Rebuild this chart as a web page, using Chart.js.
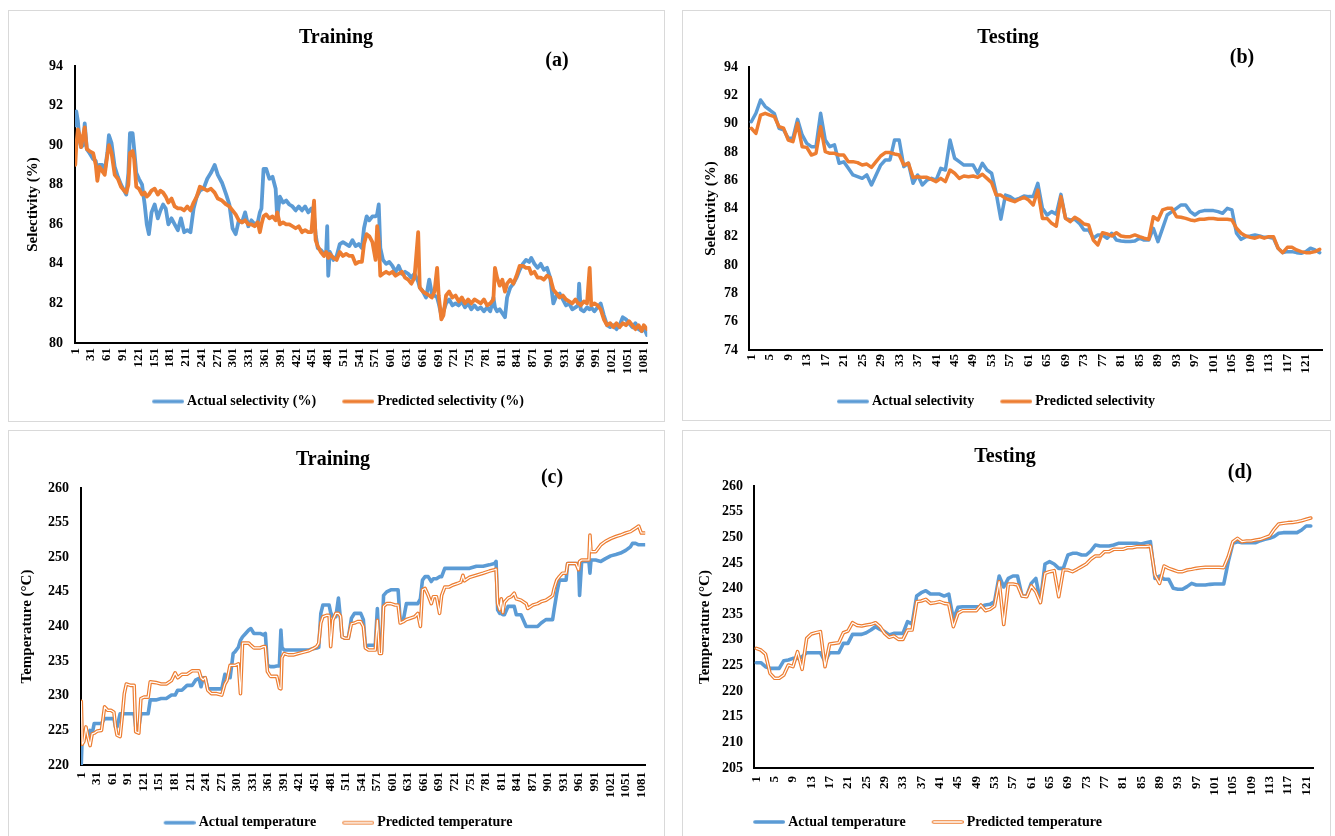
<!DOCTYPE html>
<html><head><meta charset="utf-8">
<script src="https://cdn.jsdelivr.net/npm/chart.js@4.4.1/dist/chart.umd.min.js"></script>
<style>
html,body{margin:0;padding:0;background:#fff;overflow:hidden;width:1335px;height:836px;}
.panel{position:absolute;border:1px solid #d9d9d9;box-sizing:border-box;}
canvas{position:absolute;}
</style></head><body>
<div class="panel" style="left:8px;top:10px;width:657px;height:412px"></div>
<div class="panel" style="left:682px;top:10px;width:649px;height:411px"></div>
<div class="panel" style="left:8px;top:430px;width:657px;height:420px"></div>
<div class="panel" style="left:682px;top:430px;width:649px;height:420px"></div>
<canvas id="ca" width="656" height="411" style="left:8px;top:10px"></canvas>
<canvas id="cb" width="648" height="411" style="left:682px;top:10px"></canvas>
<canvas id="cc" width="656" height="412" style="left:8px;top:430px"></canvas>
<canvas id="cd" width="648" height="412" style="left:682px;top:430px"></canvas>
<script>
// ---------- DATA ----------
const trainTicks = [1,31,61,91,121,151,181,211,241,271,301,331,361,391,421,451,481,511,541,571,601,631,661,691,721,751,781,811,841,871,901,931,961,991,1021,1051,1081];
const testTicks = [1,5,9,13,17,21,25,29,33,37,41,45,49,53,57,61,65,69,73,77,81,85,89,93,97,101,105,109,113,117,121];

// (a) training selectivity, sample index -> values
const trainSelIdx = [1,3,6,9,12,16,19,23,28,35,
40,43,47,52,57,62,65,70,76,82,
88,94,98,102,105,110,113,117,122,128,
133,137,141,146,152,158,163,168,173,178,
184,190,196,202,208,214,220,226,232,238,
245,252,259,266,272,280,288,294,300,306,
312,318,324,330,336,342,348,352,355,359,
364,370,376,382,385,390,396,402,408,414,
420,426,432,438,444,450,455,458,462,468,
474,478,480,482,485,492,498,504,510,516,
522,528,534,540,546,550,555,560,566,572,
575,578,581,586,592,598,604,610,616,622,
628,634,640,646,653,656,662,668,674,679,
684,689,692,697,701,706,712,718,724,730,
736,742,748,754,760,766,772,778,784,790,
796,799,803,808,813,818,822,828,834,840,
846,852,858,864,868,874,880,886,892,898,
904,910,916,922,928,934,940,946,952,957,
959,962,968,974,979,982,988,994,1000,1006,
1012,1018,1024,1030,1036,1042,1048,1054,1060,1066,
1072,1078,1082,1088];
const trainSelActual = [91.0,91.7,91.2,90.3,89.9,90.0,91.1,89.8,89.6,89.3,
89.2,88.7,89.0,89.0,88.7,89.6,90.5,90.1,88.9,88.4,
88.0,87.7,87.5,88.6,90.6,90.6,89.8,88.6,88.3,88.0,
87.0,86.0,85.5,86.6,87.0,86.3,86.7,87.0,86.8,86.0,
86.3,86.0,85.7,86.3,85.6,85.7,85.6,86.8,87.4,87.7,
87.8,88.3,88.6,89.0,88.5,88.1,87.5,87.0,85.8,85.5,
86.2,86.1,86.6,85.9,86.2,86.0,86.1,86.6,86.8,88.8,
88.8,88.3,88.4,87.8,86.3,87.4,87.1,87.2,87.0,86.9,
86.7,86.9,86.7,86.9,86.6,86.8,86.4,85.5,84.8,84.7,
84.5,84.6,85.9,83.4,84.6,84.2,84.4,85.0,85.1,85.0,
84.9,85.2,84.9,85.0,84.8,85.8,86.4,86.2,86.4,86.4,
86.5,87.0,84.8,84.2,84.0,84.1,83.9,83.6,83.9,83.5,
83.6,83.5,83.3,83.5,83.1,82.8,82.6,82.3,83.2,82.5,
82.4,82.3,82.0,81.4,81.6,82.0,82.2,81.9,82.0,81.9,
82.1,81.8,82.0,81.7,81.9,81.7,81.8,81.6,81.8,81.6,
82.3,81.8,81.6,81.7,81.5,81.3,82.3,82.8,83.0,83.3,
83.7,84.0,84.2,84.1,84.3,84.0,83.8,84.0,83.7,83.8,
83.3,82.0,82.4,82.5,82.2,81.9,82.0,81.7,81.8,81.9,
83.0,81.7,81.6,81.8,81.7,81.8,81.6,81.8,82.0,81.4,
80.9,80.8,80.9,80.7,80.9,81.3,81.2,81.0,80.8,81.0,
80.7,80.6,80.8,80.4];
const trainSelPred = [89.0,90.0,90.8,90.5,89.9,90.5,90.9,89.8,89.7,89.6,
89.0,88.2,88.9,88.7,88.5,89.5,90.0,89.6,88.5,88.3,
87.9,87.7,87.6,88.0,89.6,89.7,89.3,87.9,87.8,87.5,
87.6,87.4,87.5,87.7,87.8,87.5,87.7,87.6,87.4,87.1,
87.3,86.9,86.8,86.8,86.7,86.9,86.7,87.1,87.4,87.9,
87.8,87.7,87.8,87.6,87.3,87.2,87.0,86.9,86.7,86.5,
86.2,86.1,86.2,86.0,86.0,85.9,86.1,85.6,86.0,86.4,
86.5,86.3,86.4,86.2,86.6,86.0,86.1,86.0,86.0,85.9,
85.8,85.9,85.6,85.7,85.6,85.6,87.2,85.2,84.9,84.6,
84.4,84.6,84.5,84.3,84.5,84.3,84.2,84.6,84.4,84.5,
84.4,84.4,84.0,84.1,84.1,85.0,85.5,85.4,85.1,84.2,
85.9,85.2,83.4,83.5,83.6,83.5,83.6,83.4,83.5,83.6,
83.3,83.2,83.0,83.3,85.6,82.8,82.6,82.5,82.4,82.3,
82.6,83.8,82.4,81.2,81.4,82.4,82.6,82.3,82.4,82.1,
82.3,82.0,82.2,82.0,82.2,82.1,82.0,82.2,81.9,82.0,
82.2,83.8,83.3,82.9,83.2,82.6,83.0,83.2,83.0,83.4,
83.9,83.9,83.8,83.8,83.5,83.6,83.3,83.3,83.2,83.4,
83.3,82.7,82.5,82.3,82.4,82.2,82.1,82.0,82.2,82.0,
82.0,81.9,82.1,82.0,83.8,81.9,82.0,81.9,81.7,81.2,
80.9,81.0,80.8,81.0,80.8,81.0,80.9,81.1,80.9,80.7,
80.9,80.6,80.9,80.7];

// (b) testing selectivity, one value per sample 1..124
const testSelActual = [90.13,90.73,91.67,91.2,90.96,90.7,89.67,89.55,88.96,88.96,
90.3,89.2,88.6,88.37,88.37,90.73,88.84,88.37,88.5,87.2,
87.3,86.84,86.37,86.25,86.13,86.37,85.66,86.37,87.07,87.43,
87.43,88.84,88.84,86.96,87.2,85.78,86.37,85.66,86.0,86.13,
86.0,86.84,86.72,88.84,87.55,87.31,87.07,87.07,87.07,86.49,
87.2,86.72,86.49,85.07,83.25,84.95,84.84,84.6,84.72,84.88,
84.84,84.84,85.78,84.01,83.54,83.78,83.6,85.0,83.3,83.19,
83.24,82.95,82.48,82.48,81.9,82.13,82.13,81.9,82.25,81.77,
81.7,81.66,81.66,81.7,81.9,81.77,81.77,82.6,81.66,82.6,
83.54,83.78,84.01,84.25,84.25,83.78,83.54,83.78,83.85,83.85,
83.85,83.78,83.66,84.01,83.9,82.25,81.82,82.01,82.06,82.13,
82.06,81.96,81.96,81.9,81.19,80.88,80.95,80.95,80.88,80.83,
80.95,81.19,81.07,80.88];
const testSelPred = [89.67,89.31,90.6,90.73,90.6,90.49,89.78,89.67,88.84,88.72,
90.02,88.37,88.32,87.78,87.9,89.78,88.02,87.9,87.9,87.78,
87.78,87.31,87.31,87.24,87.07,87.14,86.91,87.31,87.71,87.95,
87.95,87.85,87.78,87.07,87.2,86.2,86.25,86.2,86.2,86.06,
85.9,86.13,85.9,86.72,86.49,86.13,86.3,86.25,86.3,86.2,
86.42,86.13,85.83,84.95,84.95,84.72,84.6,84.48,84.65,84.79,
84.6,84.25,85.3,83.3,83.3,82.95,82.75,84.84,83.3,83.07,
83.38,83.19,82.9,82.83,81.77,81.42,82.29,82.2,82.06,82.29,
82.06,82.01,82.01,82.13,82.01,81.9,81.82,83.42,83.19,83.9,
84.01,84.01,83.42,83.38,83.3,83.19,83.14,83.24,83.24,83.3,
83.3,83.24,83.24,83.24,83.19,82.6,82.25,82.06,81.96,81.9,
82.01,81.9,82.01,82.01,81.19,80.88,81.26,81.26,81.07,80.95,
80.88,80.88,80.95,81.11];

// (c) training temperature, sample index -> values
const trainTempIdx = [1,3,6,10,14,18,22,26,32,40,
46,52,58,64,67,70,76,80,84,88,
96,103,106,112,116,122,130,134,145,155,
165,175,182,187,195,205,215,222,228,232,
236,240,245,252,262,272,278,282,288,294,
298,304,308,312,318,324,328,334,340,346,
352,356,360,366,372,378,383,386,388,392,
400,410,420,430,440,448,455,459,463,467,
474,479,482,486,492,497,501,504,510,516,
522,528,534,540,545,549,555,562,568,572,
576,580,584,590,598,606,612,616,622,628,
636,644,650,655,659,664,670,676,680,686,
692,696,702,710,718,726,733,737,740,750,
763,776,788,798,801,804,808,811,814,817,
824,830,836,840,849,859,862,872,881,888,
897,907,910,913,918,923,929,936,939,945,
955,960,962,966,974,980,982,984,993,1003,
1012,1022,1032,1041,1051,1060,1064,1070,1076,1081,
1088];
const trainTempActual = [220.0,224.6,224.2,225.2,224.0,225.0,224.5,226.0,226.0,226.0,
226.7,226.7,226.7,226.7,225.5,225.5,227.4,227.4,227.4,227.4,
227.4,227.4,225.5,225.5,227.4,227.4,227.4,229.4,229.4,229.6,
229.6,230.1,230.1,230.8,230.8,231.5,231.5,232.3,232.5,231.3,
232.6,232.6,231.0,231.0,231.0,231.0,233.1,232.6,232.6,236.1,
236.4,237.0,238.0,238.5,239.0,239.5,239.7,239.0,239.0,239.0,
238.8,239.0,234.4,234.2,234.2,234.3,234.3,239.5,237.0,236.6,
236.6,236.6,236.6,236.6,236.6,236.8,236.9,237.0,241.9,243.1,
243.1,243.1,242.0,241.4,241.4,244.1,241.0,238.5,238.3,238.3,
241.2,241.9,241.9,241.9,241.0,237.1,237.3,237.3,237.3,242.6,
236.4,236.4,244.5,245.0,245.3,245.3,245.3,240.9,240.9,243.3,
243.3,243.3,243.3,244.0,246.7,247.2,247.2,246.5,246.9,246.9,
247.2,247.2,248.4,248.4,248.4,248.4,248.4,248.4,248.4,248.4,
248.7,248.7,248.9,249.1,249.4,242.4,241.9,241.9,241.7,241.7,
242.9,242.9,242.9,241.7,241.7,240.0,240.0,240.0,240.0,240.5,
241.0,241.0,241.0,242.5,244.8,246.7,246.7,246.7,249.1,249.1,
249.1,249.1,244.5,249.4,249.4,249.4,247.7,249.6,249.6,249.4,
249.8,250.2,250.4,250.6,251.0,251.5,252.0,252.0,251.8,251.8,
251.8];
const trainTempPred = [229.2,223.0,223.4,225.5,224.0,222.8,224.5,224.6,224.9,225.0,
228.4,227.9,227.9,227.6,225.5,224.3,224.1,227.0,230.3,231.7,
231.5,231.5,224.8,224.6,229.6,229.8,229.8,232.0,231.9,231.7,
231.7,232.2,233.3,232.6,233.1,233.1,233.6,233.6,233.6,232.6,
232.3,232.6,230.8,230.3,230.3,230.1,231.7,232.2,234.4,234.4,
234.4,234.6,230.3,237.6,237.6,237.6,237.3,236.9,236.9,236.9,
237.1,237.1,233.5,232.8,232.8,232.8,231.1,231.0,235.5,236.1,
235.9,235.9,236.1,236.3,236.5,236.8,237.1,237.6,240.5,241.4,
241.6,241.6,237.1,240.9,241.9,241.9,241.5,238.5,238.3,238.3,
240.4,240.5,240.7,240.7,240.0,236.9,236.6,236.6,236.6,240.9,
236.1,236.1,242.9,243.3,243.3,243.1,243.1,240.5,240.7,241.0,
241.2,241.4,241.9,240.0,245.3,245.5,244.5,243.3,244.3,244.3,
241.9,244.5,245.7,245.7,246.0,246.2,246.4,247.4,246.6,247.1,
247.4,247.7,248.0,248.2,248.3,243.3,242.4,244.0,242.0,243.5,
244.1,244.3,244.8,244.0,243.8,243.3,242.6,243.1,243.3,243.6,
243.8,244.3,244.5,245.5,246.7,247.2,247.7,247.7,249.1,249.1,
249.1,248.2,249.4,249.6,249.6,249.6,253.2,250.8,250.8,251.8,
252.3,252.7,253.0,253.2,253.5,253.7,253.9,254.2,254.5,253.5,
253.5];

// (d) testing temperature, one value per sample 1..122
const testTempActual = [225.54,225.54,224.76,224.44,224.44,224.44,225.93,226.06,226.39,226.39,
226.71,227.49,227.49,227.49,227.49,225.74,227.49,227.49,227.49,229.31,
229.31,231.07,231.07,231.07,231.39,231.91,232.56,232.04,231.59,230.94,
231.26,231.26,231.26,233.54,233.08,238.54,239.19,239.58,238.93,238.93,
238.93,238.54,238.93,234.0,236.33,236.46,236.46,236.46,236.46,236.46,
236.79,236.92,237.44,242.45,240.3,242.0,242.45,242.45,238.54,238.54,
241.01,241.99,237.44,244.79,245.24,244.79,243.94,243.94,246.54,246.87,
246.87,246.54,246.54,247.32,248.49,248.3,248.3,248.3,248.49,248.82,
248.82,248.82,248.82,248.82,248.69,248.95,249.14,241.99,242.45,241.8,
241.8,240.04,239.85,239.85,240.37,241.01,240.69,240.69,240.69,240.82,
240.88,240.88,240.88,245.24,248.82,249.14,248.95,248.95,248.95,248.95,
249.34,249.6,249.79,250.12,250.77,250.9,250.9,250.9,250.9,251.42,
252.2,252.2];
const testTempPred = [228.34,228.01,227.23,223.46,222.49,222.49,223.14,225.09,224.76,227.69,
224.24,230.29,231.13,231.39,231.59,224.76,229.18,229.31,229.44,231.39,
231.72,233.34,232.82,232.69,232.89,233.02,233.34,232.56,231.26,230.48,
230.74,230.09,230.09,231.91,231.91,237.44,237.57,237.89,237.11,237.24,
237.44,237.11,236.98,232.56,235.16,235.68,235.68,235.68,235.68,236.79,
235.68,235.94,236.59,241.34,233.0,240.88,240.88,240.69,238.54,238.41,
240.5,239.39,237.24,242.97,243.29,243.49,238.41,243.62,243.62,243.29,
243.75,244.27,244.79,245.7,246.35,246.35,247.19,247.19,247.65,247.65,
247.65,247.97,247.97,248.17,248.17,248.17,248.3,242.64,241.01,244.4,
243.94,243.62,243.29,243.29,243.62,243.75,243.94,244.07,244.14,244.14,
244.14,244.14,244.07,246.22,249.14,249.79,249.14,249.27,249.27,249.47,
249.6,249.92,250.25,251.55,252.59,252.72,252.85,252.9,253.04,253.24,
253.5,253.76];

// ---------- STYLE / BUILD ----------
const BLUE = '#5B9BD5', ORANGE = '#ED7D31';
Chart.defaults.font.family = '"Liberation Serif", "Times New Roman", serif';
Chart.defaults.font.weight = 'bold';
Chart.defaults.color = '#000';

const seq = (n) => Array.from({length: n}, (_, i) => i + 1);
const pts = (xs, ys) => xs.map((x, i) => ({x: x, y: ys[i]}));

function lineImg(color, dbl) {
  const c = document.createElement('canvas');
  c.width = 44; c.height = 8;
  const g = c.getContext('2d');
  g.lineCap = 'round';
  g.strokeStyle = color; g.lineWidth = 3.6;
  g.beginPath(); g.moveTo(13.8, 4); g.lineTo(42.2, 4); g.stroke();
  if (dbl) {
    g.strokeStyle = '#fff'; g.lineWidth = 1.3;
    g.beginPath(); g.moveTo(13.8, 4); g.lineTo(42.2, 4); g.stroke();
  }
  return c;
}

const panelTag = {
  id: 'panelTag',
  afterDraw(chart, args, o) {
    if (!o || !o.text) return;
    const ctx = chart.ctx;
    ctx.save();
    ctx.font = 'bold 20px "Liberation Serif", serif';
    ctx.fillStyle = '#000';
    ctx.textAlign = 'center';
    ctx.textBaseline = 'middle';
    ctx.fillText(o.text, o.x, o.y);
    ctx.restore();
  }
};
const legendShift = {
  id: 'legendShift',
  afterLayout(chart, args, o) {
    const dx = (o && o.dx) || 0;
    if (chart.legend && dx) { chart.legend.left += dx; chart.legend.right += dx; }
  }
};

function panel(id, p) {
  const ds = [
    {label: p.names[0], data: pts(p.x, p.actual), borderColor: BLUE, borderWidth: p.lw, order: 3},
    {label: p.names[1], data: pts(p.x, p.pred), borderColor: ORANGE, borderWidth: p.lw, order: 2}
  ];
  if (p.dbl) ds.push({label: 'inner', data: pts(p.x, p.pred), borderColor: '#fff', borderWidth: 1.2, order: 1});
  const imgs = [lineImg(BLUE, false), lineImg(ORANGE, p.dbl)];
  return new Chart(document.getElementById(id), {
    type: 'line',
    data: {datasets: ds},
    plugins: [panelTag, legendShift],
    options: {
      responsive: false, animation: false, devicePixelRatio: 1, events: [],
      layout: {padding: {left: p.L, right: p.R, top: 0, bottom: p.B}},
      elements: {
        point: {radius: 0, hoverRadius: 0},
        line: {tension: 0, borderJoinStyle: 'round', borderCapStyle: 'round', fill: false}
      },
      scales: {
        x: {
          type: 'linear', min: 0.5, max: p.n + 0.5,
          grid: {display: false, drawTicks: false},
          border: {display: true, color: '#000', width: 2},
          ticks: {autoSkip: false, minRotation: 90, maxRotation: 90, padding: p.xPad,
                  font: {size: 13, weight: 'bold'}, color: '#000', callback: (v) => String(v)},
          afterBuildTicks: (s) => { s.ticks = p.ticks.map((v) => ({value: v})); },
          afterFit: (s) => { s.height = p.xh; }
        },
        y: {
          type: 'linear', min: p.ymin, max: p.ymax,
          grid: {display: false, drawTicks: false},
          border: {display: true, color: '#000', width: 2},
          ticks: {stepSize: p.step, padding: p.yPad, font: {size: 14, weight: 'bold'}, color: '#000'},
          title: {display: true, text: p.yTitle, color: '#000', font: {size: 15, weight: 'bold'},
                  padding: {top: p.ytPad, bottom: 0}},
          afterFit: (s) => { s.width = p.yw; }
        }
      },
      plugins: {
        tooltip: {enabled: false},
        title: {display: true, text: p.title, color: '#000', font: {size: 20, weight: 'bold'},
                padding: {top: p.ta, bottom: p.tb}},
        legend: {
          display: true, position: 'bottom',
          labels: {
            usePointStyle: true, pointStyleWidth: 36, padding: 18,
            font: {size: 14, weight: 'bold'}, color: '#000',
            generateLabels: () => [
              {text: p.names[0], pointStyle: imgs[0], fontColor: '#000', datasetIndex: 0, hidden: false, lineWidth: 0, strokeStyle: 'rgba(0,0,0,0)', fillStyle: 'rgba(0,0,0,0)'},
              {text: p.names[1], pointStyle: imgs[1], fontColor: '#000', datasetIndex: 1, hidden: false, lineWidth: 0, strokeStyle: 'rgba(0,0,0,0)', fillStyle: 'rgba(0,0,0,0)'}
            ]
          }
        },
        panelTag: {text: p.tag, x: p.tagX, y: p.tagY},
        legendShift: {dx: p.dx}
      }
    }
  });
}

panel('ca', {
  x: trainSelIdx, actual: trainSelActual, pred: trainSelPred, n: 1088, ticks: trainTicks,
  names: ['Actual selectivity (%)', 'Predicted selectivity (%)'], dbl: false, lw: 3.8,
  title: 'Training', ta: 16, tb: 16, tag: '(a)', tagX: 549, tagY: 51,
  ymin: 80, ymax: 94, step: 2, yTitle: 'Selectivity (%)',
  L: 16, R: 16, B: 2.5, yw: 51, ytPad: 0, yPad: 12, xh: 33.5, xPad: 5, dx: -2
});
panel('cb', {
  x: seq(testSelActual.length), actual: testSelActual, pred: testSelPred, n: 124, ticks: testTicks,
  names: ['Actual selectivity', 'Predicted selectivity'], dbl: false, lw: 3.5,
  title: 'Testing', ta: 16, tb: 17, tag: '(b)', tagX: 560, tagY: 48,
  ymin: 74, ymax: 94, step: 2, yTitle: 'Selectivity (%)',
  L: 12, R: 8, B: 2.5, yw: 55, ytPad: 8, yPad: 11, xh: 26.5, xPad: 4, dx: -16
});
panel('cc', {
  x: trainTempIdx, actual: trainTempActual, pred: trainTempPred, n: 1088, ticks: trainTicks,
  names: ['Actual temperature', 'Predicted temperature'], dbl: true, lw: 3.6,
  title: 'Training', ta: 18, tb: 16, tag: '(c)', tagX: 544, tagY: 48,
  ymin: 220, ymax: 260, step: 5, yTitle: 'Temperature (°C)',
  L: 10, R: 16, B: 2.3, yw: 63, ytPad: 0, yPad: 12, xh: 32.7, xPad: 7, dx: 1
});
panel('cd', {
  x: seq(testTempActual.length), actual: testTempActual, pred: testTempPred, n: 122, ticks: testTicks,
  names: ['Actual temperature', 'Predicted temperature'], dbl: true, lw: 3.6,
  title: 'Testing', ta: 15, tb: 17, tag: '(d)', tagX: 558, tagY: 43,
  ymin: 205, ymax: 260, step: 5, yTitle: 'Temperature (°C)',
  L: 14, R: 16, B: 3, yw: 58, ytPad: 0, yPad: 11, xh: 29, xPad: 8, dx: -81.5
});
</script>
</body></html>
